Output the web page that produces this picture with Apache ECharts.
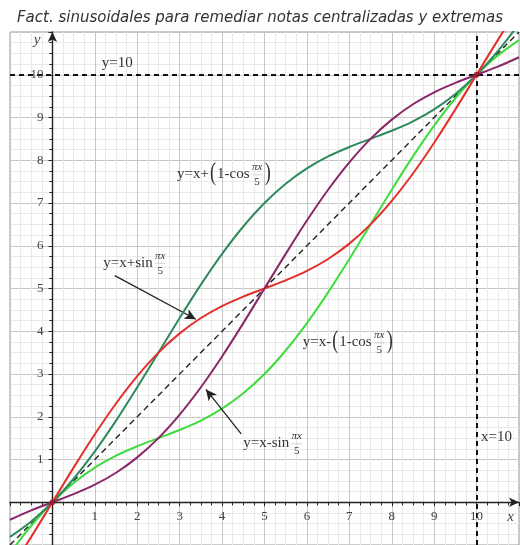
<!DOCTYPE html>
<html><head><meta charset="utf-8">
<script src="https://cdn.jsdelivr.net/npm/echarts@6/dist/echarts.min.js"></script>
<style>html,body{margin:0;padding:0;background:#fff}#c{width:520px;height:545px}</style>
</head><body><div id="c"></div>
<script>
// Sample abscissas shared by all curves
const xs = [-1,-0.5,0,0.5,1,1.5,2,2.5,3,3.5,4,4.5,5,5.5,6,6.5,7,7.5,8,8.5,9,9.5,10,10.5,11];
// y = x + sin(pi x / 5)
const redY = [-1.59,-0.81,0,0.81,1.59,2.31,2.95,3.5,3.95,4.31,4.59,4.81,5,5.19,5.41,5.69,6.05,6.5,7.05,7.69,8.41,9.19,10,10.81,11.59];
// y = x - sin(pi x / 5)
const purpleY = [-0.41,-0.19,0,0.19,0.41,0.69,1.05,1.5,2.05,2.69,3.41,4.19,5,5.81,6.59,7.31,7.95,8.5,8.95,9.31,9.59,9.81,10,10.19,10.41];
// y = x + (1 - cos(pi x / 5))
const darkGreenY = [-0.81,-0.45,0,0.55,1.19,1.91,2.69,3.5,4.31,5.09,5.81,6.45,7,7.45,7.81,8.09,8.31,8.5,8.69,8.91,9.19,9.55,10,10.55,11.19];
// y = x - (1 - cos(pi x / 5))
const lightGreenY = [-1.19,-0.55,0,0.45,0.81,1.09,1.31,1.5,1.69,1.91,2.19,2.55,3,3.55,4.19,4.91,5.69,6.5,7.31,8.09,8.81,9.45,10,10.45,10.81];
// identity reference y = x
const diagX = [-1, 11];
const diagY = [-1, 11];
// points where all curves meet
const nodeX = [0, 10];
const nodeY = [0, 10];
// tick labels written next to the axes (both axes share them)
const tickLabels = [1,2,3,4,5,6,7,8,9,10];
const titleText = 'Fact. sinusoidales para remediar notas centralizadas y extremas';

const zip = (a, b) => a.map((v, i) => [v, b[i]]);
const SERIF = '"Liberation Serif", "DejaVu Serif", serif';
const INK = '#333';

const chart = echarts.init(document.getElementById('c'), null, {renderer: 'canvas'});

function axis() {
  return {
    type: 'value', min: -1, max: 11, interval: 1,
    axisLine: {onZero: true, symbol: ['none', 'arrow'], symbolSize: [7, 10],
      lineStyle: {color: '#222', width: 1.4}},
    axisTick: {show: true, length: 4, lineStyle: {color: '#222', width: 1}},
    minorTick: {show: true, splitNumber: 4, length: 3, lineStyle: {color: '#222', width: 1}},
    splitLine: {show: true, lineStyle: {color: '#c6c6c6', width: 1}},
    minorSplitLine: {show: true, lineStyle: {color: '#e9e9e9', width: 1}},
    // numbers are placed beside the zero-crossing axes further below
    axisLabel: {show: false}
  };
}

function curve(name, ys, color, z) {
  return {name, type: 'line', data: zip(xs, ys), smooth: 0.35, showSymbol: false, symbol: 'none',
    lineStyle: {color, width: 2}, z, animation: false};
}

chart.setOption({
  animation: false,
  backgroundColor: '#fff',
  title: {
    text: titleText, left: 'center', top: 6,
    textStyle: {fontFamily: '"DejaVu Sans", sans-serif', fontStyle: 'italic', fontWeight: 'normal',
      fontSize: 15, color: '#333'}
  },
  grid: {left: 10, right: 1, top: 32, bottom: 0, containLabel: false, outerBoundsMode: 'none',
    show: true, borderColor: '#999', borderWidth: 1, backgroundColor: '#fff'},
  xAxis: axis(),
  yAxis: axis(),
  series: [
    {name: 'y=x', type: 'line', data: zip(diagX, diagY), symbol: 'none',
      lineStyle: {color: '#222', width: 1.4, type: [6, 4]}, z: 3,
      markLine: {
        silent: true, symbol: 'none', label: {show: false},
        lineStyle: {color: '#111', width: 2, type: [5, 4]},
        data: [{yAxis: 10}, {xAxis: 10}]
      }},
    curve('y=x-(1-cos)', lightGreenY, '#3fdc3f', 4),
    curve('y=x+(1-cos)', darkGreenY, '#2e8a5c', 5),
    curve('y=x+sin', redY, '#e4302a', 6),
    curve('y=x-sin', purpleY, '#8a2767', 7),
    {name: 'nodes', type: 'scatter', data: zip(nodeX, nodeY), symbolSize: 6,
      itemStyle: {color: '#8e1c24'}, z: 8},
    // pointer arrows from the formulas to their curves
    {name: 'pointers', type: 'line', data: [], z: 9,
      markLine: {
        silent: true, symbol: ['none', 'arrow'], symbolSize: [8, 11], label: {show: false},
        lineStyle: {color: '#222', width: 1.3, type: 'solid'},
        data: [
          [{coord: [1.47, 5.3]}, {coord: [3.38, 4.28]}],
          [{coord: [4.45, 1.6]}, {coord: [3.62, 2.64]}]
        ]
      }}
  ]
});

// Formula annotations, laid out piece by piece
const mctx = document.createElement('canvas').getContext('2d');
function tw(s, size) { mctx.font = size + 'px ' + SERIF; return mctx.measureText(s).width; }
function px(pt) { return chart.convertToPixel({gridIndex: 0}, pt); }
function txt(s, x, y, size, align, extra) {
  return Object.assign({type: 'text', x, y, z: 20,
    style: {text: s, font: size + 'px ' + SERIF, fill: INK, align: align || 'left', verticalAlign: 'middle'}}, extra || {});
}
function formula(anchor, parts) {
  const p = px(anchor);
  let x = p[0]; const y = p[1]; const els = [];
  parts.forEach(part => {
    if (part.frac) {
      const fs = 11;
      const w = Math.max(tw(part.frac[0], fs), tw(part.frac[1], fs));
      els.push(txt(part.frac[0], x + w / 2 + 1, y - 7, fs, 'center', {style: {text: part.frac[0], font: 'italic ' + fs + 'px ' + SERIF, fill: INK, align: 'center', verticalAlign: 'middle'}}));
      els.push({type: 'line', z: 20, shape: {x1: x + 1, y1: y + 0.5, x2: x + w + 1, y2: y + 0.5}, style: {stroke: '#aaa', lineWidth: 0.5}});
      els.push(txt(part.frac[1], x + w / 2 + 1, y + 8, fs, 'center'));
      x += w + 3;
    } else if (part.paren) {
      const fs = 26;
      els.push(txt(part.paren, x, y - 1, fs, 'left', {scaleX: 0.7}));
      x += tw(part.paren, fs) * 0.7 + 1;
    } else {
      const fs = part.size || 15;
      els.push(txt(part.t, x, y, fs, 'left'));
      x += tw(part.t, fs) + 1;
    }
  });
  return els;
}
function label(anchor, s, size) {
  const p = px(anchor);
  return txt(s, p[0], p[1], size, 'center');
}
function axisName(anchor, s) {
  const p = px(anchor);
  return {type: 'text', x: p[0], y: p[1], z: 20,
    style: {text: s, font: 'italic 15px ' + SERIF, fill: '#444', align: 'center', verticalAlign: 'middle'}};
}
function tickText(s, x, y, align) {
  return {type: 'text', x, y, z: 15,
    style: {text: s, font: '13px ' + SERIF, fill: '#444', align, verticalAlign: 'middle'}};
}
const origin = px([0, 0]);
const tickEls = [];
tickLabels.forEach(v => {
  tickEls.push(tickText(String(v), px([v, 0])[0], origin[1] + 14, 'center'));
  tickEls.push(tickText(String(v), origin[0] - 9, px([0, v])[1], 'right'));
});

const elements = [].concat(
  tickEls,
  [label([1.53, 10.27], 'y=10', 15), label([10.47, 1.52], 'x=10', 15)],
  [axisName([10.8, -0.34], 'x'), axisName([-0.36, 10.8], 'y')],
  formula([2.94, 7.67], [{t: 'y=x+'}, {paren: '('}, {t: '1-cos'}, {frac: ['πx', '5']}, {paren: ')'}]),
  formula([1.2, 5.6], [{t: 'y=x+sin'}, {frac: ['πx', '5']}]),
  formula([5.9, 3.74], [{t: 'y=x-'}, {paren: '('}, {t: '1-cos'}, {frac: ['πx', '5']}, {paren: ')'}]),
  formula([4.5, 1.38], [{t: 'y=x-sin'}, {frac: ['πx', '5']}])
);
chart.setOption({graphic: {elements}});
</script>
</body></html>
